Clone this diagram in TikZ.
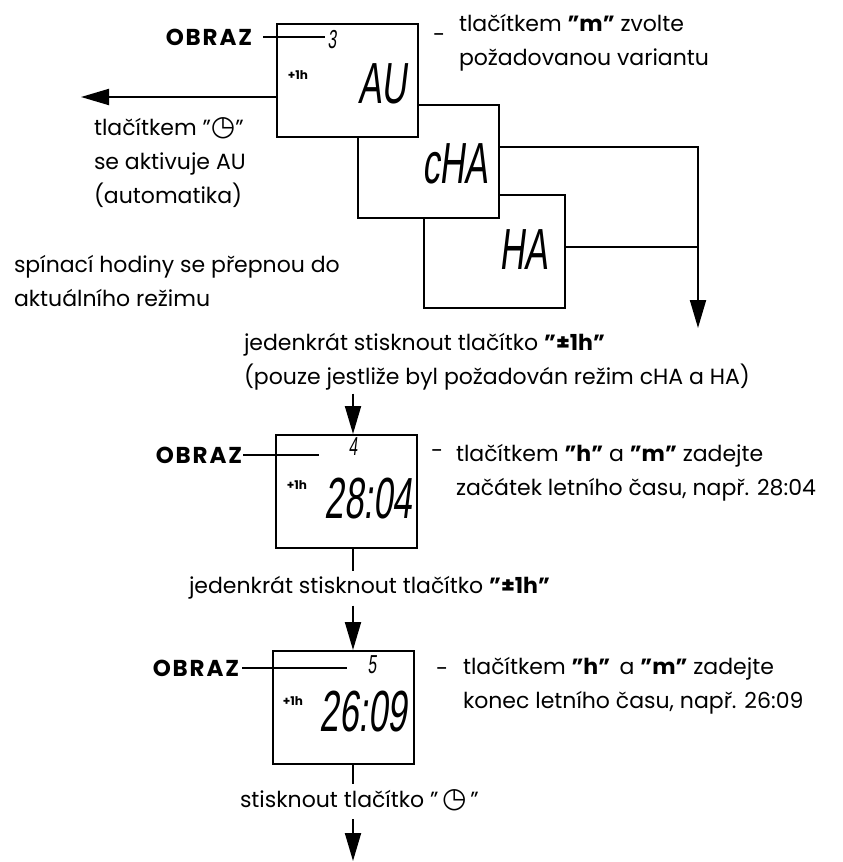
\documentclass[tikz,border=0pt]{standalone}
\usepackage{fontspec}
\setmainfont{Poppins}
\newfontfamily\lcdfont{Liberation Sans}[FakeStretch=0.6,FakeSlant=0.12]
\newfontfamily\symfont{DejaVu Sans}
\usetikzlibrary{arrows.meta,positioning}

\tikzset{
  lcdbox/.style={draw,line width=2pt,fill=white,minimum width=141pt,minimum height=113pt,inner sep=0pt},
  txt/.style={font=\fontsize{22}{34}\selectfont,align=left,inner sep=0pt,anchor=base west},
  obraz/.style={font=\fontsize{23}{23}\selectfont\bfseries\addfontfeature{LetterSpace=8},inner sep=0pt,anchor=base east},
  bigseg/.style={font=\lcdfont\fontsize{58}{58}\selectfont,inner sep=0pt,anchor=east},
  smallseg/.style={font=\lcdfont\fontsize{26}{26}\selectfont,inner sep=0pt},
  plush/.style={font=\fontsize{12}{12}\selectfont\bfseries,inner sep=0pt},
  arr/.style={-{Triangle[length=28pt,width=16pt]}},
}
\newcommand{\clockkey}{{\symfont\fontsize{28}{28}\selectfont ◷}}

\begin{document}
\begin{tikzpicture}[x=1pt,y=-1pt,line width=2pt]
\useasboundingbox (0,0) rectangle (843,862);
% displays, back to front
\node[lcdbox] (ha) at (494,251) {};
\node[lcdbox] (cha) at (428,161) {};
\node[lcdbox] (au) at (347.5,80.5) {};
\node[lcdbox] (b4) at (346,491.5) {};
\node[lcdbox] (b5) at (343,707.5) {};

% what the displays show
\node[bigseg] (autxt) at (408,84) {AU};
\node[bigseg] (chatxt) at (489,164) {cHA};
\node[bigseg] (hatxt) at (549,250) {HA};
\node[bigseg] (t4) at (413,499) {28:04};
\node[bigseg] (t5) at (408,712) {26:09};
\node[smallseg] (n3) at (332,40) {3};
\node[smallseg] (n4) at (353,447) {4};
\node[smallseg] (n5) at (372,665) {5};
\node[plush] (p3) at (298,75) {+1h};
\node[plush] (p4) at (297,485) {+1h};
\node[plush] (p5) at (293,701) {+1h};

% OBRAZ labels
\node[obraz] (o3) at (253,45) {OBRAZ};
\coordinate (o3end) at (315,36);
\draw ([xshift=10pt]o3.east) -- ([xshift=10pt]o3.east -| o3end);
\node[obraz] (o4) at (243,463) {OBRAZ};
\coordinate (o4end) at (319,453);
\draw (o4.east) -- (o4.east -| o4end);
\node[obraz] (o5) at (240,676) {OBRAZ};
\coordinate (o5end) at (345,667);
\draw ([xshift=2pt]o5.east) -- ([xshift=2pt]o5.east -| o5end);

% notes (base = last line)
\node[txt] (d3) at (432,42) {-};
\node[txt] (m3) at (458,65) {tlačítkem \textbf{"m"} zvolte\\požadovanou variantu};
\node[txt] (ret3) at (93,203) {tlačítkem "\clockkey"\\se aktivuje AU\\(automatika)};
\node[txt] (mode) at (13,306) {spínací hodiny se přepnou do\\aktuálního režimu};
\node[txt] (k34) at (243,384) {jedenkrát stisknout tlačítko \textbf{"±1h"}\\(pouze jestliže byl požadován režim cHA a HA)};
\node[txt] (d4) at (430,458) {-};
\node[txt] (hm4) at (455,495) {tlačítkem \textbf{"h"} a \textbf{"m"} zadejte\\začátek letního času, např. 28:04};
\node[txt] (k45) at (188,593) {jedenkrát stisknout tlačítko \textbf{"±1h"}};
\node[txt] (d5) at (435,676) {-};
\node[txt] (hm5) at (462,708) {tlačítkem \textbf{"h"}\, a \textbf{"m"} zadejte\\konec letního času, např. 26:09};
\node[txt] (k5) at (239,807) {stisknout tlačítko "\,\clockkey\,"};

% connectors
\coordinate (exit) at (81,97);
\draw[arr] (exit -| au.west) -- (exit);
\coordinate (drop) at (698,328);
\draw[arr] ([yshift=14pt]cha.east) -| (drop);
\draw ([yshift=4pt]ha.east) -- ([yshift=4pt]ha.east -| drop);
\coordinate (axis) at (353,0);
\draw[arr] ([yshift=-3pt]k34.south -| axis) -- (b4.north -| axis);
\draw (b4.south -| axis) -- ([yshift=4pt]k45.north -| axis);
\draw[arr] ([yshift=-6pt]k45.south -| axis) -- (b5.north -| axis);
\draw (b5.south -| axis) -- ([yshift=4pt]k5.north -| axis);
\coordinate (finish) at (353,861);
\draw[arr] ([yshift=-8pt]k5.south -| axis) -- (finish);
\end{tikzpicture}
\end{document}
